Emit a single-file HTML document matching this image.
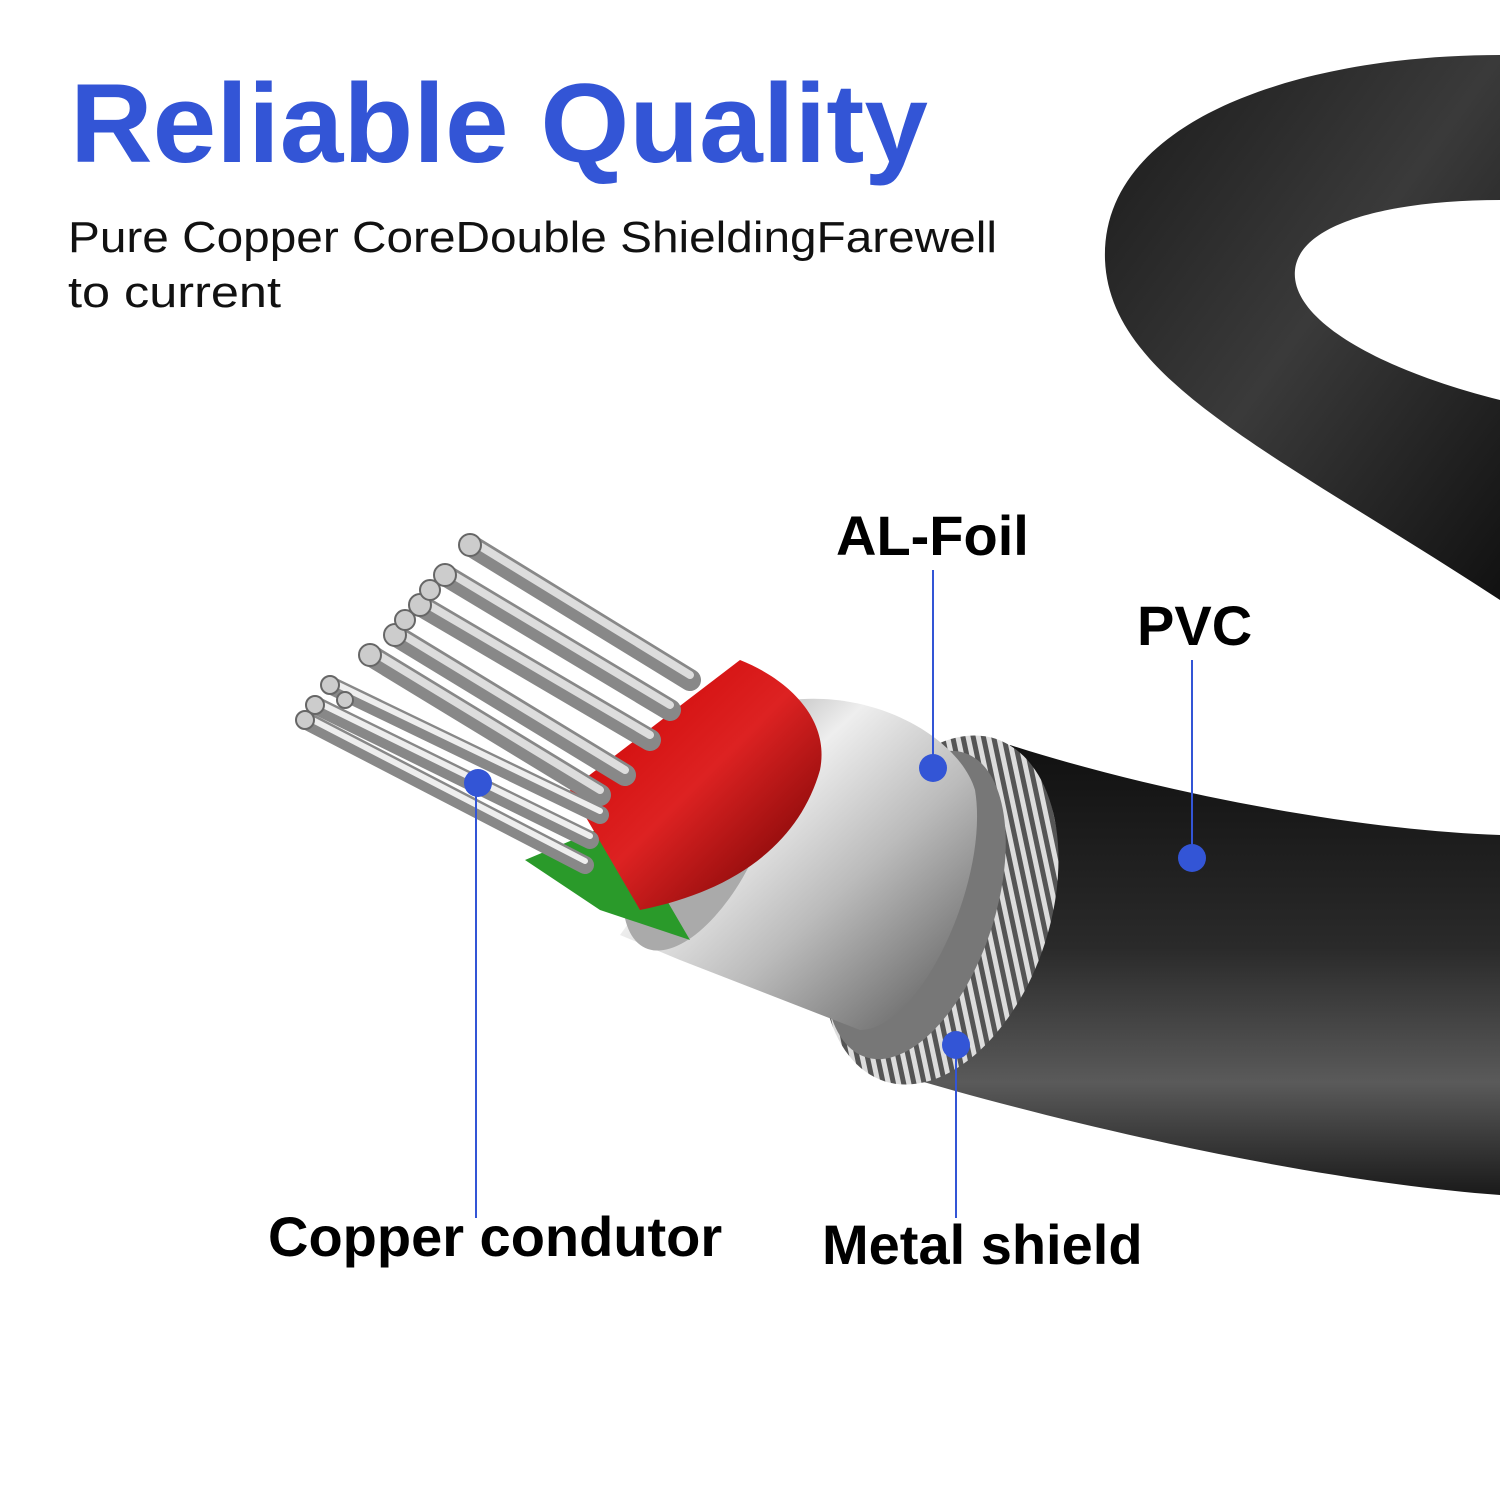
<!DOCTYPE html>
<html><head><meta charset="utf-8"><style>
html,body{margin:0;padding:0;background:#fff;width:1500px;height:1500px;overflow:hidden}
svg{display:block}
</style></head><body>
<svg width="1500" height="1500" viewBox="0 0 1500 1500" xmlns="http://www.w3.org/2000/svg">
<defs>
<linearGradient id="blk" x1="0" y1="0" x2="0" y2="1">
<stop offset="0" stop-color="#111"/><stop offset="0.45" stop-color="#2a2a2a"/><stop offset="0.75" stop-color="#5a5a5a"/><stop offset="1" stop-color="#1a1a1a"/></linearGradient>
<linearGradient id="ring" x1="0" y1="0" x2="1" y2="1">
<stop offset="0" stop-color="#1a1a1a"/><stop offset="0.5" stop-color="#3a3a3a"/><stop offset="1" stop-color="#111"/></linearGradient>
<linearGradient id="silv" x1="0" y1="0" x2="1" y2="1">
<stop offset="0" stop-color="#777"/><stop offset="0.35" stop-color="#eee"/><stop offset="0.6" stop-color="#bbb"/><stop offset="1" stop-color="#555"/></linearGradient>
<linearGradient id="red" x1="0" y1="0" x2="1" y2="1">
<stop offset="0" stop-color="#c00"/><stop offset="0.5" stop-color="#d22"/><stop offset="1" stop-color="#600"/></linearGradient>
<pattern id="stripe" width="10" height="10" patternUnits="userSpaceOnUse" patternTransform="rotate(-30)">
<rect width="10" height="10" fill="#555"/><rect width="5" height="10" fill="#ddd"/></pattern>
</defs>
<path d="M1500,55 C1300,55 1100,120 1105,260 C1110,380 1270,450 1500,600 L1500,400 C1380,370 1290,320 1295,270 C1300,220 1400,200 1500,200 Z" fill="url(#ring)"/>
<path d="M1010,745 C1150,790 1350,830 1500,835 L1500,1195 C1300,1180 1050,1120 900,1075 Z" fill="url(#blk)"/>
<ellipse cx="940" cy="910" rx="110" ry="180" transform="rotate(18 940 910)" fill="url(#stripe)"/>
<ellipse cx="915" cy="905" rx="80" ry="160" transform="rotate(18 915 905)" fill="#777"/>
<path d="M620,935 L790,700 C880,690 960,740 975,790 C990,880 920,1030 860,1030 L680,960 Z" fill="url(#silv)"/>
<ellipse cx="700" cy="830" rx="60" ry="130" transform="rotate(25 700 830)" fill="#aaa"/>
<path d="M525,860 L620,820 L690,940 L600,910 Z" fill="#2a9a2a"/>
<path d="M570,790 L740,660 C790,680 830,720 820,770 C800,840 740,890 640,910 Z" fill="url(#red)"/>
<g stroke-linecap="round">
<g stroke="#888" stroke-width="22"><line x1="470" y1="545" x2="690" y2="680"/><line x1="445" y1="575" x2="670" y2="710"/><line x1="420" y1="605" x2="650" y2="740"/><line x1="395" y1="635" x2="625" y2="775"/><line x1="370" y1="655" x2="600" y2="795"/></g>
<g stroke="#ddd" stroke-width="8"><line x1="470" y1="540" x2="690" y2="675"/><line x1="445" y1="570" x2="670" y2="705"/><line x1="420" y1="600" x2="650" y2="735"/><line x1="395" y1="630" x2="625" y2="770"/><line x1="370" y1="650" x2="600" y2="790"/></g>
<g stroke="#888" stroke-width="18"><line x1="330" y1="685" x2="600" y2="815"/><line x1="315" y1="705" x2="590" y2="840"/><line x1="305" y1="720" x2="585" y2="865"/></g>
<g stroke="#eee" stroke-width="6"><line x1="330" y1="681" x2="600" y2="811"/><line x1="315" y1="701" x2="590" y2="836"/><line x1="305" y1="716" x2="585" y2="861"/></g>
</g>
<g fill="#ccc" stroke="#666" stroke-width="2">
<circle cx="470" cy="545" r="11"/><circle cx="445" cy="575" r="11"/><circle cx="420" cy="605" r="11"/><circle cx="395" cy="635" r="11"/><circle cx="370" cy="655" r="11"/><circle cx="430" cy="590" r="10"/><circle cx="405" cy="620" r="10"/>
<circle cx="330" cy="685" r="9"/><circle cx="315" cy="705" r="9"/><circle cx="305" cy="720" r="9"/><circle cx="345" cy="700" r="8"/>
</g>
<g stroke="#3355d6" stroke-width="2" fill="none">
<line x1="933" y1="570" x2="933" y2="768"/>
<line x1="1192" y1="660" x2="1192" y2="858"/>
<line x1="476" y1="783" x2="476" y2="1218"/>
<line x1="956" y1="1045" x2="956" y2="1218"/>
</g>
<g fill="#3355d6"><circle cx="933" cy="768" r="14"/><circle cx="1192" cy="858" r="14"/><circle cx="478" cy="783" r="14"/><circle cx="956" cy="1045" r="14"/></g>
<g font-family="Liberation Sans, sans-serif">
<text x="70" y="162" font-size="112" font-weight="bold" fill="#3355d6" textLength="858" lengthAdjust="spacingAndGlyphs">Reliable Quality</text>
<text x="68" y="252" font-size="44" fill="#111" textLength="929" lengthAdjust="spacingAndGlyphs">Pure Copper CoreDouble ShieldingFarewell</text>
<text x="68" y="307" font-size="44" fill="#111" textLength="213" lengthAdjust="spacingAndGlyphs">to current</text>
<text x="836" y="555" font-size="56" font-weight="bold" fill="#000">AL-Foil</text>
<text x="1137" y="645" font-size="56" font-weight="bold" fill="#000">PVC</text>
<text x="268" y="1256" font-size="56" font-weight="bold" fill="#000">Copper condutor</text>
<text x="822" y="1264" font-size="56" font-weight="bold" fill="#000">Metal shield</text>
</g>
</svg>
</body></html>
